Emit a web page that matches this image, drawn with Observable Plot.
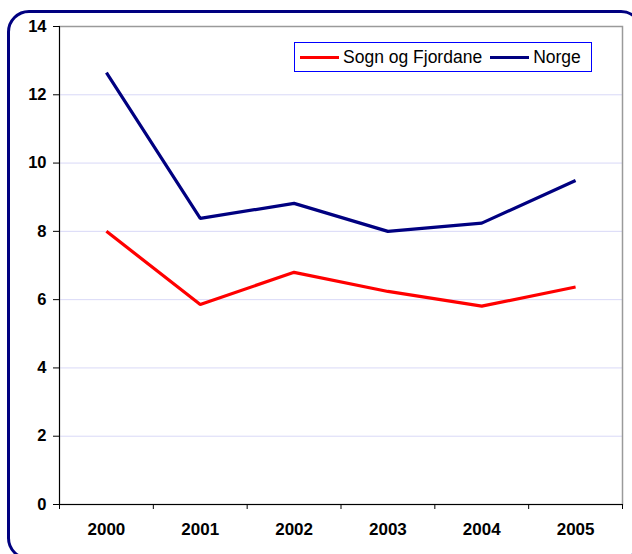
<!DOCTYPE html>
<html>
<head>
<meta charset="utf-8">
<script src="https://cdn.jsdelivr.net/npm/d3@7"></script>
<script src="https://cdn.jsdelivr.net/npm/@observablehq/plot@0.6"></script>
<style>
  html, body { margin: 0; padding: 0; background: #fff; overflow: hidden; }
  #wrap { position: relative; width: 632px; height: 554px; overflow: hidden; font-family: "Liberation Sans", Arial, sans-serif; }
  #frame { position: absolute; left: 7px; top: 10px; width: 636px; height: 550px; box-sizing: border-box;
           border: 3px solid #000080; border-radius: 22px; pointer-events: none; }
  #legend { position: absolute; left: 294px; top: 42px; width: 298px; height: 30px; box-sizing: border-box;
            border: 1px solid #0000ff; background: #fff; display: flex; align-items: center;
            font-size: 17.5px; color: #000; white-space: nowrap; }
  #legend .sw { display: inline-block; width: 39px; height: 3px; margin: 0 4px 0 5px; }
  svg g[aria-label="y-axis tick label"] text, svg g[aria-label="x-axis tick label"] text { font-weight: bold; }
</style>
</head>
<body>
<div id="wrap"></div>
<script>
const years = [2000, 2001, 2002, 2003, 2004, 2005];
const sognOgFjordane = [8.0, 5.86, 6.8, 6.24, 5.81, 6.37];
const norge = [12.65, 8.38, 8.82, 8.0, 8.24, 9.49];
const yTicks = [0, 2, 4, 6, 8, 10, 12, 14];
const seriesNames = ["Sogn og Fjordane", "Norge"];
const seriesColors = ["#ff0000", "#000080"];

const rows = [];
years.forEach((yr, i) => {
  rows.push({ year: yr, value: sognOgFjordane[i], series: seriesNames[0] });
  rows.push({ year: yr, value: norge[i], series: seriesNames[1] });
});
const boundaries = [years[0] - 0.5, ...years.map(y => y + 0.5)];

const plot = Plot.plot({
  width: 632,
  height: 554,
  marginLeft: 59,
  marginRight: 10,
  marginTop: 26,
  marginBottom: 50,
  style: { fontFamily: '"Liberation Sans", Arial, sans-serif', background: "transparent", fontWeight: "bold" },
  x: { type: "linear", domain: [boundaries[0], boundaries[boundaries.length - 1]] },
  y: { domain: [0, 14] },
  color: { domain: seriesNames, range: seriesColors },
  marks: [
    Plot.gridY(yTicks.slice(1, -1), { stroke: "#d9d9f7", strokeOpacity: 1, strokeWidth: 1 }),
    Plot.frame({ stroke: "#9a9a9a", strokeWidth: 1.5 }),
    Plot.ruleY([0], { stroke: "#000", strokeWidth: 1 }),
    Plot.ruleX([boundaries[0]], { stroke: "#000", strokeWidth: 1 }),
    Plot.axisY(yTicks, { tickSize: 6, tickPadding: 7, fontSize: 16.5, fontWeight: "bold", fill: "#000", label: null }),
    Plot.axisX(years, { tickSize: 0, tickPadding: 18, fontSize: 17, fontWeight: "bold", tickFormat: d => String(d), label: null }),
    Plot.axisX(boundaries, { tickSize: 5, tickFormat: () => "", label: null }),
    Plot.line(rows, { x: "year", y: "value", z: "series", stroke: "series", strokeWidth: 3.2, strokeLinejoin: "miter", strokeLinecap: "butt" })
  ]
});
plot.style.position = "absolute";
plot.style.left = "0px";
plot.style.top = "0px";

const wrap = document.getElementById("wrap");
wrap.appendChild(plot);

const legend = document.createElement("div");
legend.id = "legend";
seriesNames.forEach((name, i) => {
  const sw = document.createElement("span");
  sw.className = "sw";
  sw.style.background = seriesColors[i];
  if (i > 0) sw.style.marginLeft = "8px";
  legend.appendChild(sw);
  const t = document.createElement("span");
  t.textContent = name;
  legend.appendChild(t);
});
wrap.appendChild(legend);

const frame = document.createElement("div");
frame.id = "frame";
wrap.appendChild(frame);
</script>
</body>
</html>
